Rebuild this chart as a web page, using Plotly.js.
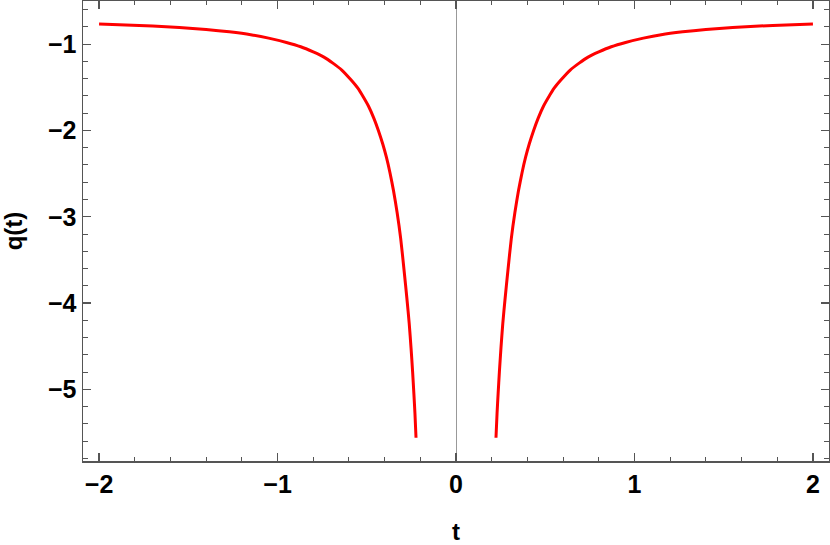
<!DOCTYPE html>
<html>
<head>
<meta charset="utf-8">
<script src="https://cdn.plot.ly/plotly-3.0.1.min.js"></script>
<style>
  html, body { margin: 0; padding: 0; background: #fff; }
  #chart { width: 830px; height: 545px; }
</style>
</head>
<body>
<div id="chart"></div>
<script>
// values (the two branches are mirror images)
var tLeft = [-2.0, -1.85, -1.7, -1.55, -1.4, -1.27, -1.15, -1.05, -0.95, -0.87, -0.80, -0.74, -0.69, -0.64, -0.59, -0.55, -0.52, -0.49, -0.46, -0.435, -0.41, -0.39, -0.37, -0.35, -0.33, -0.31, -0.29, -0.275, -0.262, -0.252, -0.243, -0.236, -0.23, -0.224];
var qLeft = [-0.766, -0.777, -0.79, -0.807, -0.83, -0.857, -0.89, -0.93, -0.98, -1.03, -1.09, -1.15, -1.22, -1.30, -1.41, -1.51, -1.61, -1.72, -1.86, -2.00, -2.16, -2.31, -2.49, -2.70, -2.95, -3.25, -3.64, -3.95, -4.24, -4.52, -4.80, -5.05, -5.28, -5.56];

var tRight = [0.224, 0.23, 0.236, 0.243, 0.252, 0.262, 0.275, 0.29, 0.31, 0.33, 0.35, 0.37, 0.39, 0.41, 0.435, 0.46, 0.49, 0.52, 0.55, 0.59, 0.64, 0.69, 0.74, 0.80, 0.87, 0.95, 1.05, 1.15, 1.27, 1.4, 1.55, 1.7, 1.85, 2.0];
var qRight = [-5.56, -5.28, -5.05, -4.80, -4.52, -4.24, -3.95, -3.64, -3.25, -2.95, -2.70, -2.49, -2.31, -2.16, -2.00, -1.86, -1.72, -1.61, -1.51, -1.41, -1.30, -1.22, -1.15, -1.09, -1.03, -0.98, -0.93, -0.89, -0.857, -0.83, -0.807, -0.79, -0.777, -0.766];

var curveStyle = { color: '#ff0000', width: 3, shape: 'spline', smoothing: 0.6 };

var left = {
    x: tLeft,
    y: qLeft,
    mode: 'lines',
    line: curveStyle,
    hoverinfo: 'x+y'
};

var right = {
    x: tRight,
    y: qRight,
    mode: 'lines',
    line: curveStyle,
    hoverinfo: 'x+y'
};

var tickFont = { family: 'Liberation Sans, Arial, sans-serif', size: 25, color: '#000', weight: 'bold' };
var titleFont = { family: 'Liberation Sans, Arial, sans-serif', size: 24, color: '#000', weight: 'bold' };
var frameColor = '#555';

var layout = {
    width: 830,
    height: 545,
    margin: { l: 83, r: 1, t: 1, b: 84 },
    paper_bgcolor: '#fff',
    plot_bgcolor: '#fff',
    showlegend: false,
    xaxis: {
        title: { text: 't', font: titleFont, standoff: 27 },
        range: [-2.09, 2.09],
        autorange: false,
        tickvals: [-2, -1, 0, 1, 2],
        ticks: 'inside',
        ticklen: 8,
        tickwidth: 1.2,
        tickcolor: frameColor,
        tickfont: tickFont,
        ticklabelstandoff: 0,
        minor: { dtick: 0.2, ticks: 'inside', ticklen: 4, tickwidth: 1, tickcolor: frameColor, showgrid: false },
        showline: true,
        linecolor: frameColor,
        linewidth: 1.5,
        mirror: 'allticks',
        showgrid: false,
        zeroline: true,
        zerolinecolor: '#999',
        zerolinewidth: 1
    },
    yaxis: {
        title: { text: 'q(t)', font: titleFont, standoff: 19 },
        range: [-5.83, -0.5],
        autorange: false,
        tickvals: [-5, -4, -3, -2, -1],
        ticks: 'inside',
        ticklen: 8,
        tickwidth: 1.2,
        tickcolor: frameColor,
        tickfont: tickFont,
        minor: { dtick: 0.2, ticks: 'inside', ticklen: 5, tickwidth: 1, tickcolor: frameColor, showgrid: false },
        showline: true,
        linecolor: frameColor,
        linewidth: 1.5,
        mirror: 'allticks',
        showgrid: false,
        zeroline: false
    }
};

Plotly.newPlot('chart', [left, right], layout, { displayModeBar: false, staticPlot: true });
</script>
</body>
</html>
